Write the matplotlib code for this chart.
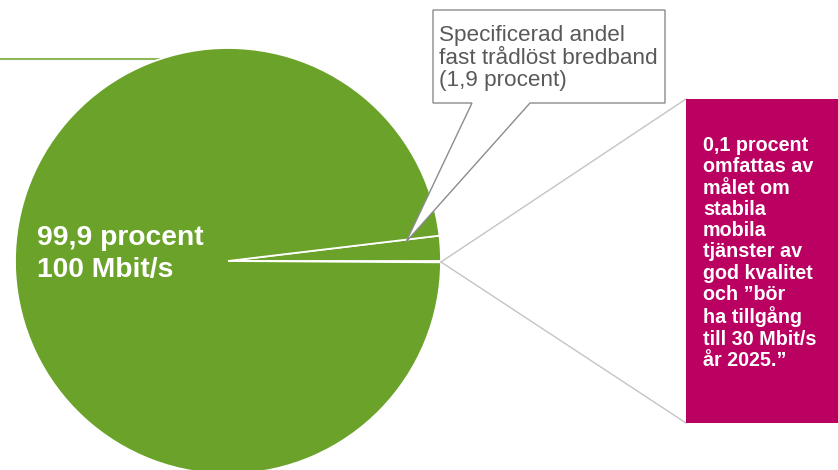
import matplotlib
matplotlib.use("Agg")
import matplotlib.pyplot as plt
from matplotlib.patches import Polygon, Rectangle

# Data
slice_names = ["Mobil (0,1 %)", "Fast trådlöst (1,9 %)", "Övrigt (98,0 %)"]
slice_values = [0.1, 1.9, 98.0]
main_label = "99,9 procent\n100 Mbit/s"
callout_label = "Specificerad andel\nfast trådlöst bredband\n(1,9 procent)"
box_label = ("0,1 procent\nomfattas av\nmålet om\nstabila\nmobila\ntjänster av\n"
             "god kvalitet\noch \u201dbör\nha tillgång\ntill 30 Mbit/s\når 2025.\u201d")

GREEN = "#6AA22A"
MAGENTA = "#BA0061"
W, H = 838, 470

def Y(y):
    return H - y

plt.rcParams['font.family'] = ['Liberation Sans', 'DejaVu Sans']
fig = plt.figure(figsize=(W / 100, H / 100), dpi=100)
ax = fig.add_axes([0, 0, 1, 1])

# decorative line top-left
ax.plot([0, 175], [Y(59), Y(59)], color="#8DB85A", lw=1.5, zorder=1)

cx, cy, r = 228, 261, 213
ax.pie(slice_values, colors=[GREEN] * 3, startangle=-0.36, counterclock=True,
       center=(cx, Y(cy)), radius=r, frame=True,
       wedgeprops=dict(edgecolor="white", linewidth=1.3), normalize=True)

ax.set_xlim(0, W)
ax.set_ylim(0, H)
ax.set_aspect('auto')
ax.axis('off')

# Main label
ax.text(37, Y(254), main_label, color="white", fontsize=20.3, fontweight="bold",
        ha="left", va="center", linespacing=1.27, zorder=5)

# Callout for 1.9 percent
pts = [(433, 10), (665, 10), (665, 103), (530, 103), (406, 242), (472, 103), (433, 103)]
ax.add_patch(Polygon([(x, Y(y)) for x, y in pts], closed=True, facecolor="white",
                     edgecolor="#8C8C8C", lw=1.0, zorder=4))
ax.text(439, Y(58), callout_label, color="#595959", fontsize=16.2,
        ha="left", va="center", linespacing=1.1, zorder=5)

# Magenta box callout
ax.plot([441, 686], [Y(262), Y(99)], color="#C4C4C4", lw=1.0, zorder=3)
ax.plot([441, 686], [Y(262), Y(423)], color="#C4C4C4", lw=1.0, zorder=3)
ax.add_patch(Rectangle((686, Y(423)), 838 - 686, 423 - 99, facecolor=MAGENTA,
                       edgecolor="none", zorder=4))
ax.text(703, Y(253), box_label, color="white", fontsize=14.2, fontweight="bold",
        ha="left", va="center", linespacing=1.15, zorder=5)

fig.savefig("out.png", dpi=100)
